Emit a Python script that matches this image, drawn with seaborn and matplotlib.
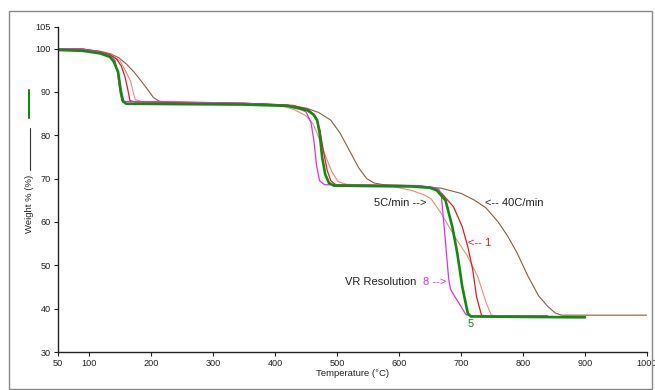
import matplotlib
matplotlib.use("Agg")
import matplotlib.pyplot as plt
import seaborn as sns
import pandas as pd
from matplotlib.lines import Line2D
from matplotlib.patches import Rectangle

# ---------------- data ----------------
green_T = [50, 90, 118, 134, 140, 147, 151, 155, 160, 250, 350, 420, 452, 462, 468, 472, 476, 481, 487, 495,
           550, 620, 650, 661, 675, 686, 694, 702, 711, 716, 800, 900]
green_W = [99.7, 99.5, 98.9, 98.1, 97.0, 94.6, 90.5, 87.8, 87.3, 87.2, 87.1, 86.8, 85.8, 84.8, 83.5, 80.5, 75.0,
           71.0, 69.0, 68.4, 68.3, 68.2, 67.9, 67.3, 65.0, 58.9, 52.8, 45.1, 38.9, 38.2, 38.1, 38.0]

magenta_T = [50, 90, 118, 134, 142, 146, 150, 153, 160, 250, 350, 430, 450, 458, 463, 467, 472, 480, 550, 630,
             655, 664, 668, 674, 680, 683, 690, 700, 708, 720, 840]
magenta_W = [100.0, 99.9, 99.2, 98.4, 97.2, 94.5, 90.0, 88.0, 87.8, 87.7, 87.4, 86.8, 85.4, 83.0, 78.5, 73.0,
             69.5, 68.6, 68.5, 68.4, 68.0, 67.6, 66.5, 57.0, 47.0, 44.5, 42.8, 40.5, 38.6, 38.3, 38.3]

red_T = [50, 90, 118, 134, 145, 152, 158, 162, 166, 175, 250, 350, 430, 455, 465, 472, 478, 484, 490, 498, 560,
         630, 655, 669, 688, 702, 711, 719, 725, 733, 740, 840]
red_W = [100.0, 99.9, 99.3, 98.6, 97.5, 96.0, 93.5, 91.0, 88.0, 87.7, 87.6, 87.4, 86.9, 85.8, 84.5, 81.5, 76.5,
         72.0, 69.5, 68.6, 68.5, 68.4, 67.9, 66.6, 63.5, 58.9, 54.3, 48.9, 42.8, 38.5, 38.3, 38.3]

pink_T = [50, 90, 118, 134, 150, 161, 167, 172, 175, 185, 250, 350, 410, 430, 450, 462, 472, 482, 492, 502, 515,
          560, 590, 620, 640, 652, 668, 690, 711, 727, 741, 749, 760, 840]
pink_W = [100.0, 99.9, 99.3, 98.7, 97.2, 94.3, 92.5, 89.5, 88.2, 87.8, 87.6, 87.3, 86.8, 86.0, 84.5, 82.5, 79.0,
          75.0, 71.5, 69.3, 68.7, 68.5, 68.2, 67.3, 66.3, 65.3, 62.0, 56.6, 52.0, 47.4, 41.2, 38.5, 38.3, 38.3]

brown_T = [50, 90, 118, 135, 148, 160, 172, 180, 188, 196, 204, 213, 225, 300, 380, 420, 450, 470, 490, 505, 520,
           535, 548, 560, 575, 620, 668, 700, 721, 740, 760, 775, 790, 808, 825, 840, 852, 862, 880, 1000]
brown_W = [100.0, 99.9, 99.4, 98.8, 97.9, 96.5, 94.7, 93.3, 91.8, 90.3, 88.7, 87.9, 87.6, 87.5, 87.3, 87.0, 86.3,
           85.3, 83.5, 80.5, 76.5, 72.5, 70.0, 69.0, 68.6, 68.4, 67.8, 66.6, 65.1, 63.3, 60.0, 56.8, 53.0, 47.5,
           43.0, 40.5, 39.0, 38.5, 38.5, 38.5]

x_ticks = [50, 100, 200, 300, 400, 500, 600, 700, 800, 900, 1000]
y_ticks = [30, 40, 50, 60, 70, 80, 90, 100, 105]

series = [
    ("40C/min", brown_T, brown_W, "#8c5e3c", 0.8),
    ("5C/min", pink_T, pink_W, "#f08878", 0.8),
    ("1", red_T, red_W, "#e41a1c", 0.9),
    ("8", magenta_T, magenta_W, "#e030e0", 0.9),
    ("5", green_T, green_W, "#108a10", 1.9),
]

frames = []
for name, T, W, _, _ in series:
    frames.append(pd.DataFrame({"T": T, "W": W, "run": name}))
df = pd.concat(frames, ignore_index=True)

# ---------------- figure ----------------
sns.set_style("ticks")
plt.rcParams["font.family"] = ["Liberation Sans", "DejaVu Sans"]

fig = plt.figure(figsize=(6.55, 3.9), dpi=100)
ax = fig.add_axes([58 / 655, 38 / 390, (647 - 58) / 655, (352 - 27) / 390])

for name, T, W, color, lw in series:
    sub = df[df["run"] == name]
    sns.lineplot(data=sub, x="T", y="W", ax=ax, color=color, linewidth=lw,
                 sort=False, estimator=None, legend=False)

ax.set_xlim(50, 1000)
ax.set_ylim(30, 105)
ax.set_xticks(x_ticks)
ax.set_yticks(y_ticks)
ax.tick_params(axis="both", labelsize=6.6, length=3, width=0.8, pad=2, colors="#222222")
for s in ["top", "right"]:
    ax.spines[s].set_visible(False)
for s in ["left", "bottom"]:
    ax.spines[s].set_linewidth(1.0)
    ax.spines[s].set_color("#222222")

ax.set_xlabel("Temperature (°C)", fontsize=6.8, labelpad=1, color="#222222")
ax.set_ylabel("")

# annotations
tk = dict(fontsize=8, va="center", ha="left")
ax.text(559, 64.4, "5C/min -->", color="#222222", **tk)
ax.text(739, 64.4, "<-- 40C/min", color="#222222", **tk)
ax.text(712, 55.2, "<-- 1", color="#e41a1c", **tk)
ax.text(513, 46.2, "VR Resolution", color="#222222", **tk)
ax.text(639, 46.2, "8 -->", color="#e030e0", **tk)
ax.text(715, 36.5, "5", color="#108a10", fontsize=8, va="center", ha="center")

# y label with legend-like line symbols
fig.text(29.5 / 655, 1 - 203.5 / 390, "Weight % (%)", rotation=90, fontsize=6.8,
         va="center", ha="center", color="#222222")
fig.add_artist(Line2D([29.5 / 655, 29.5 / 655], [1 - 170 / 390, 1 - 128 / 390],
                      color="#333333", linewidth=0.8, transform=fig.transFigure))
fig.add_artist(Line2D([29 / 655, 29 / 655], [1 - 118 / 390, 1 - 90 / 390],
                      color="#108a10", linewidth=1.5, transform=fig.transFigure))

# outer frame
fig.patches.append(Rectangle((9 / 655, 1 / 390), (652 - 9) / 655, (389 - 11) / 390,
                             transform=fig.transFigure, fill=False, edgecolor="#888888",
                             linewidth=1.0))

fig.savefig("out.png", dpi=100)
